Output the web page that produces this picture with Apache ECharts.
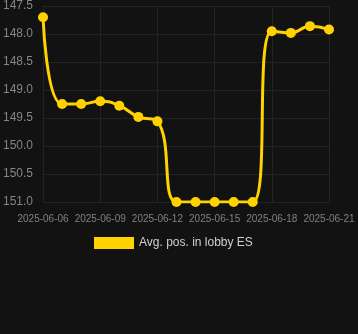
<!DOCTYPE html>
<html>
<head>
<meta charset="utf-8">
<script src="https://cdn.jsdelivr.net/npm/echarts@6/dist/echarts.min.js"></script>
<style>
html,body{margin:0;padding:0;background:#121212;}
#c{width:358px;height:334px;}
</style>
</head>
<body>
<div id="c"></div>
<script>
var dates = ["2025-06-06","2025-06-07","2025-06-08","2025-06-09","2025-06-10","2025-06-11","2025-06-12","2025-06-13","2025-06-14","2025-06-15","2025-06-16","2025-06-17","2025-06-18","2025-06-19","2025-06-20","2025-06-21"];
var avgPos = [147.7,149.25,149.25,149.2,149.28,149.48,149.56,151.0,151.0,151.0,151.0,151.0,147.95,147.98,147.86,147.92];
var seriesName = "Avg. pos. in lobby ES";

var chart = echarts.init(document.getElementById('c'), null, {renderer:'canvas'});
chart.setOption({
  backgroundColor: '#121212',
  animation: false,
  grid: {left: 40, right: 29, top: 6, bottom: 132},
  legend: {
    data: [seriesName],
    left: 89, top: 232,
    itemWidth: 40, itemHeight: 12, itemGap: 10,
    icon: 'rect',
    textStyle: {color: '#d0d0d0', fontSize: 12, fontFamily: 'Liberation Sans, Arial, sans-serif'}
  },
  xAxis: {
    type: 'category',
    data: dates,
    boundaryGap: false,
    axisLine: {show: false},
    axisTick: {show: false},
    axisLabel: {interval: 2, color: '#808080', fontSize: 10, margin: 12, fontFamily: 'Liberation Sans, Arial, sans-serif'},
    splitLine: {show: true, interval: 2, lineStyle: {color: '#232323', width: 1}}
  },
  yAxis: {
    type: 'value',
    inverse: true,
    min: 147.5, max: 151.0, interval: 0.5,
    axisLine: {show: false},
    axisTick: {show: false},
    axisLabel: {color: '#858585', fontSize: 12, margin: 10, fontFamily: 'Liberation Sans, Arial, sans-serif',
      formatter: function(v){ return v.toFixed(1); }},
    splitLine: {show: true, lineStyle: {color: '#232323', width: 1}}
  },
  series: [{
    name: seriesName,
    type: 'line',
    data: avgPos,
    smooth: true,
    symbol: 'circle',
    symbolSize: 10,
    itemStyle: {color: '#FFD200'},
    lineStyle: {color: '#FFD200', width: 3}
  }]
});
</script>
</body>
</html>
